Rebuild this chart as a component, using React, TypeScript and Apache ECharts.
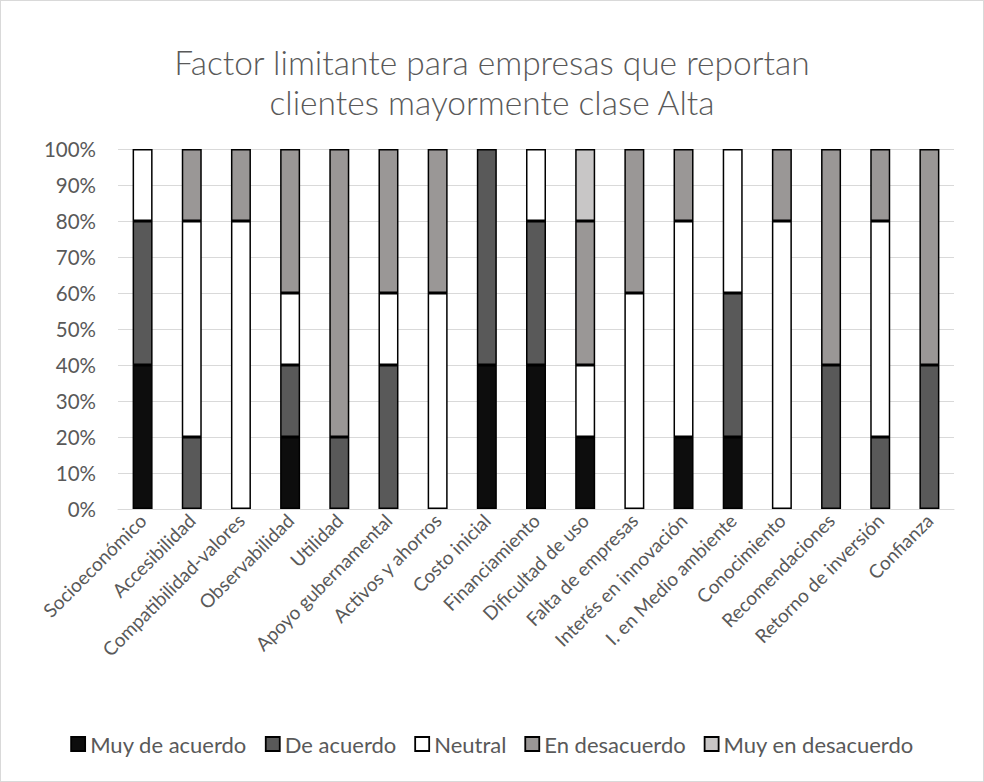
import React, { useEffect, useRef } from "react";
import * as echarts from "echarts";

const categories = [
  "Socioeconómico", "Accesibilidad", "Compatibilidad-valores", "Observabilidad", "Utilidad",
  "Apoyo gubernamental", "Activos y ahorros", "Costo inicial", "Financiamiento", "Dificultad de uso",
  "Falta de empresas", "Interés en innovación", "I. en Medio ambiente", "Conocimiento",
  "Recomendaciones", "Retorno de inversión", "Confianza",
];
const muyDeAcuerdo = [40, 0, 0, 20, 0, 0, 0, 40, 40, 20, 0, 20, 20, 0, 0, 0, 0];
const deAcuerdo = [40, 20, 0, 20, 20, 40, 0, 60, 40, 0, 0, 0, 40, 0, 40, 20, 40];
const neutral = [20, 60, 80, 20, 0, 20, 60, 0, 20, 20, 60, 60, 40, 80, 0, 60, 0];
const enDesacuerdo = [0, 20, 20, 40, 80, 40, 40, 0, 0, 40, 40, 20, 0, 20, 60, 20, 60];
const muyEnDesacuerdo = [0, 0, 0, 0, 0, 0, 0, 0, 0, 20, 0, 0, 0, 0, 0, 0, 0];
const seriesNames = ["Muy de acuerdo", "De acuerdo", "Neutral", "En desacuerdo", "Muy en desacuerdo"];
const seriesColors = ["#0d0d0d", "#595959", "#ffffff", "#9a9796", "#c8c6c6"];

export default function App() {
  const ref = useRef<HTMLDivElement>(null);
  useEffect(() => {
    const chart = echarts.init(ref.current!, null, { renderer: "svg" });
    const data = [muyDeAcuerdo, deAcuerdo, neutral, enDesacuerdo, muyEnDesacuerdo];
    const font = "Lato, 'Open Sans', sans-serif";
    chart.setOption({
      animation: false,
      backgroundColor: "#ffffff",
      title: {
        text: "Factor limitante para empresas que reportan\nclientes mayormente clase Alta",
        left: "center",
        top: 36,
        textStyle: {
          fontFamily: font,
          fontWeight: 300,
          fontSize: 33.5,
          color: "#595959",
          lineHeight: 40,
        },
      },
      legend: {
        top: 727,
        left: "center",
        itemWidth: 14,
        itemHeight: 14,
        itemGap: 18,
        icon: "rect",
        textStyle: { fontFamily: font, fontSize: 22, color: "#595959", padding: [0, 0, 0, 0] },
        data: seriesNames.map((n, i) => ({
          name: n,
          itemStyle: { color: seriesColors[i], borderColor: "#000", borderWidth: 1.8 },
        })),
      },
      grid: { left: 117, right: 29, top: 148, bottom: 272, containLabel: false },
      xAxis: {
        type: "category",
        data: categories,
        axisLine: { lineStyle: { color: "#d9d9d9", width: 1 } },
        axisTick: { show: false },
        axisLabel: {
          rotate: 45,
          interval: 0,
          margin: 8,
          fontFamily: font,
          fontSize: 19,
          color: "#595959",
        },
      },
      yAxis: {
        type: "value",
        min: 0,
        max: 100,
        interval: 10,
        axisLabel: {
          formatter: "{value}%",
          fontFamily: font,
          fontSize: 20.5,
          color: "#595959",
          margin: 22,
        },
        splitLine: { lineStyle: { color: "#d9d9d9", width: 1 } },
        axisLine: { show: false },
        axisTick: { show: false },
      },
      series: seriesNames.map((n, i) => ({
        name: n,
        type: "bar",
        stack: "total",
        barWidth: 20,
        data: data[i].map((v) => (v === 0 ? null : v)),
        itemStyle: { color: seriesColors[i], borderColor: "#000", borderWidth: 1.5 },
      })),
    });
    return () => chart.dispose();
  }, []);
  return (
    <div
      style={{
        position: "absolute",
        left: 0,
        top: 0,
        width: 984,
        height: 782,
        boxSizing: "border-box",
        border: "1px solid #d9d9d9",
        background: "#fff",
      }}
    >
      <div ref={ref} style={{ width: 982, height: 780 }} />
    </div>
  );
}
